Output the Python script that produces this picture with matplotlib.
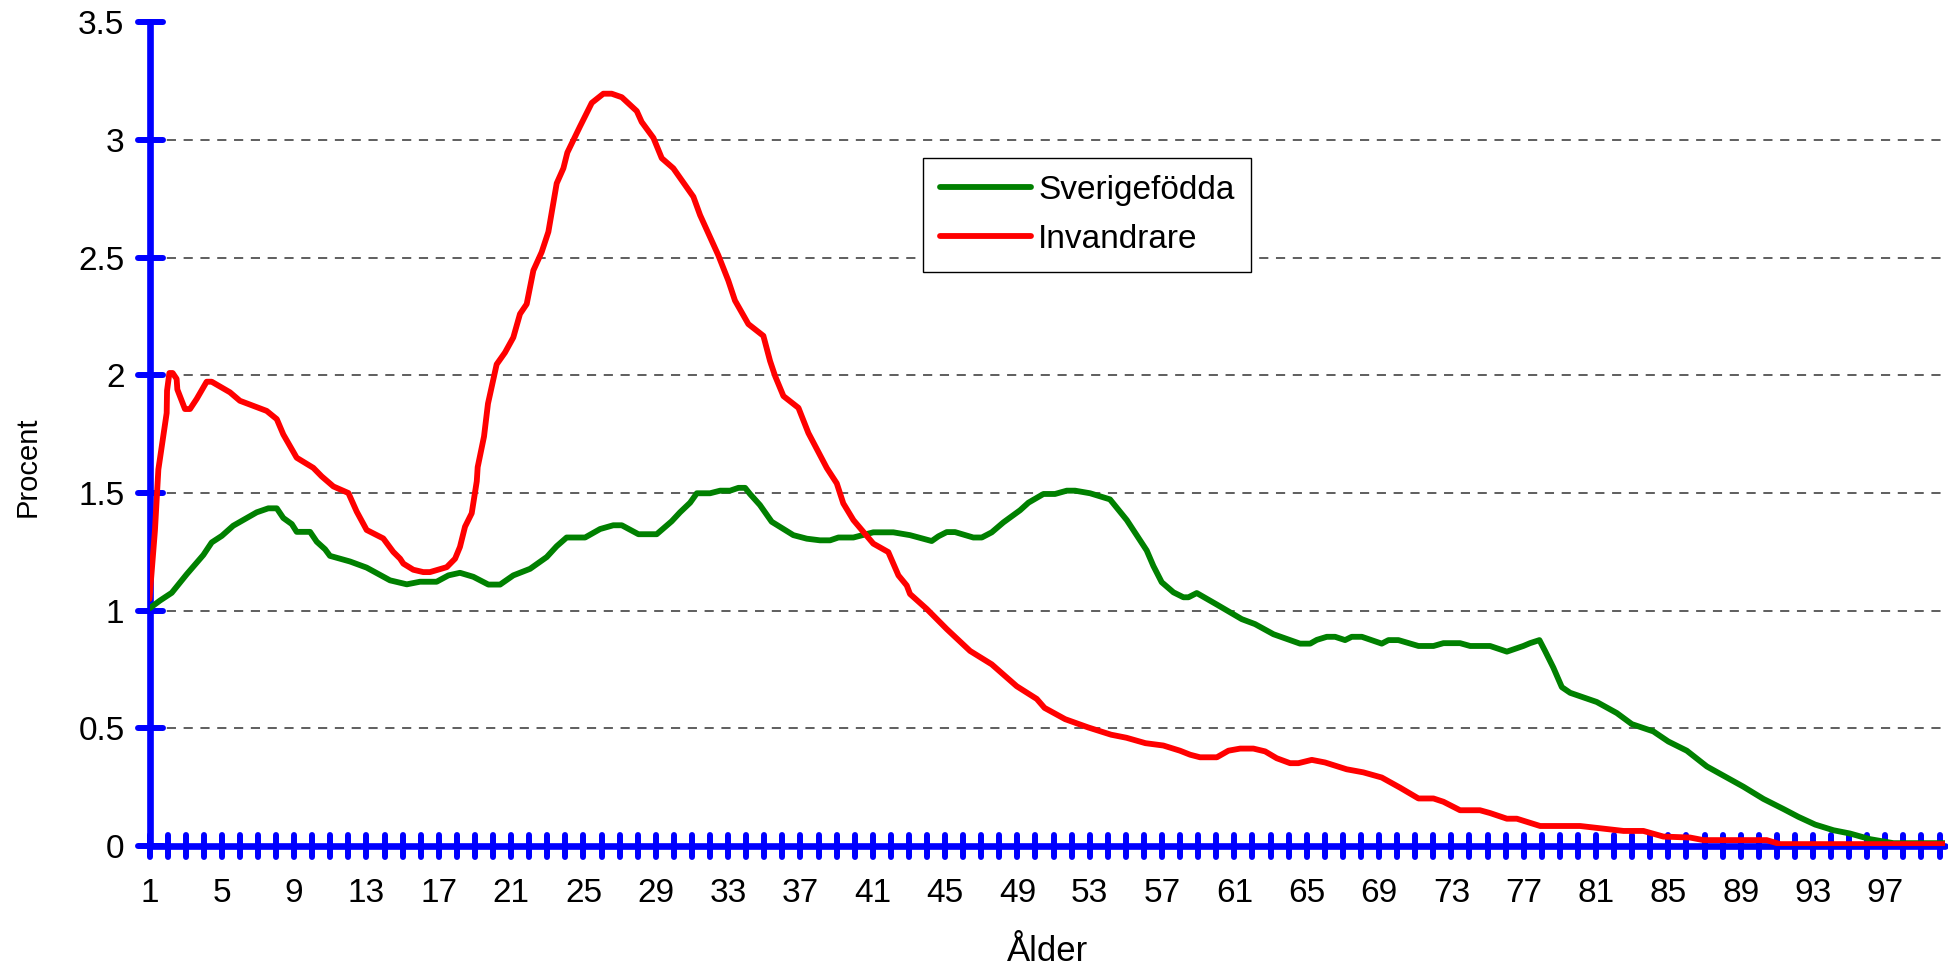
import matplotlib
matplotlib.use('Agg')
import matplotlib.pyplot as plt
from matplotlib.markers import MarkerStyle
import numpy as np

plt.rcParams['font.family'] = ['Liberation Sans', 'DejaVu Sans']

# Sverigefödda (green)
sv_age = [1.0, 1.58, 2.23, 3.06, 3.98, 4.44, 5.0, 5.63, 6.93, 7.57, 8.04, 8.4, 8.87, 9.14,
          9.88, 10.25, 10.71, 10.98, 12.09, 13.01, 14.3, 15.23, 15.96, 16.88, 17.53, 18.17,
          18.91, 19.74, 20.39, 21.12, 22.05, 22.97, 23.52, 24.07, 25.09, 25.92, 26.65, 27.12,
          28.04, 29.05, 29.88, 30.34, 30.9, 31.27, 32.0, 32.56, 33.11, 33.57, 33.94, 34.21,
          34.76, 35.41, 36.61, 37.35, 38.08, 38.64, 39.1, 39.93, 41.03, 42.14, 43.06, 44.26,
          44.63, 45.09, 45.55, 46.56, 47.03, 47.58, 48.22, 49.15, 49.61, 50.44, 51.08, 51.73,
          52.19, 53.02, 54.12, 55.05, 56.15, 56.52, 56.98, 57.63, 58.18, 58.46, 58.92, 60.03,
          61.41, 62.14, 63.16, 64.63, 65.19, 65.56, 66.11, 66.57, 67.12, 67.49, 68.05, 69.15,
          69.52, 70.07, 71.18, 72.01, 72.56, 73.48, 74.04, 75.14, 76.07, 76.98, 77.35, 77.87,
          78.18, 78.64, 79.11, 79.57, 81.04, 82.15, 82.98, 84.17, 85.0, 86.02, 87.13, 88.05,
          89.15, 90.26, 91.37, 92.19, 93.12, 94.13, 95.05, 96.16, 97.45, 100.3]
sv_val = [1.01, 1.043, 1.076, 1.155, 1.237, 1.29, 1.318, 1.361, 1.418, 1.435, 1.435, 1.394,
          1.368, 1.335, 1.335, 1.293, 1.261, 1.233, 1.209, 1.183, 1.129, 1.112, 1.123, 1.123,
          1.15, 1.161, 1.144, 1.111, 1.111, 1.15, 1.178, 1.228, 1.274, 1.311, 1.311, 1.347,
          1.363, 1.363, 1.325, 1.325, 1.38, 1.418, 1.459, 1.499, 1.499, 1.51, 1.51, 1.522,
          1.522, 1.496, 1.449, 1.378, 1.321, 1.306, 1.299, 1.299, 1.311, 1.311, 1.333, 1.333,
          1.321, 1.296, 1.316, 1.334, 1.334, 1.311, 1.311, 1.333, 1.375, 1.427, 1.459, 1.496,
          1.496, 1.51, 1.51, 1.499, 1.473, 1.385, 1.256, 1.19, 1.121, 1.078, 1.057, 1.057,
          1.075, 1.026, 0.964, 0.943, 0.9, 0.86, 0.86, 0.876, 0.889, 0.889, 0.875, 0.889,
          0.889, 0.86, 0.875, 0.875, 0.85, 0.85, 0.862, 0.862, 0.85, 0.85, 0.826, 0.85, 0.862,
          0.875, 0.829, 0.758, 0.675, 0.651, 0.612, 0.565, 0.518, 0.487, 0.444, 0.405, 0.338,
          0.299, 0.252, 0.2, 0.157, 0.124, 0.091, 0.067, 0.053, 0.029, 0.012, 0.012]

# Invandrare (red)
inv_age = [1.0, 1.3, 1.49, 1.95, 1.97, 2.1, 2.28, 2.5, 2.54, 2.96, 3.24, 3.61, 4.16, 4.44,
           5.45, 6.0, 7.48, 8.04, 8.4, 9.14, 10.06, 10.52, 11.17, 12.0, 12.46, 13.01, 13.93,
           14.48, 14.86, 15.04, 15.59, 16.14, 16.51, 17.44, 17.9, 18.17, 18.45, 18.82, 19.1,
           19.15, 19.5, 19.72, 20.2, 20.66, 21.12, 21.49, 21.86, 22.23, 22.69, 23.06, 23.52,
           23.89, 24.11, 24.81, 25.46, 26.1, 26.56, 27.12, 27.95, 28.22, 28.87, 29.33, 29.97,
           31.08, 31.45, 32.46, 33.01, 33.38, 34.12, 34.95, 35.32, 35.6, 36.06, 36.89, 37.44,
           38.46, 39.01, 39.37, 39.93, 41.03, 41.86, 42.42, 42.88, 43.06, 43.99, 45.09, 46.38,
           47.58, 48.96, 50.07, 50.5, 51.64, 52.91, 54.18, 55.03, 56.08, 57.07, 57.99, 58.55,
           59.1, 60.03, 60.67, 61.32, 62.05, 62.7, 63.34, 64.08, 64.54, 65.28, 66.01, 67.21,
           68.13, 69.15, 70.16, 71.18, 72.01, 72.56, 73.48, 74.58, 75.14, 76.07, 76.62, 77.91,
           80.12, 82.52, 83.62, 84.73, 86.2, 86.94, 90.44, 91.18, 100.3]
inv_val = [1.05, 1.34, 1.6, 1.84, 1.935, 2.01, 2.01, 1.985, 1.94, 1.857, 1.857, 1.9, 1.973,
           1.973, 1.928, 1.892, 1.849, 1.814, 1.749, 1.65, 1.607, 1.571, 1.528, 1.5, 1.421,
           1.343, 1.307, 1.25, 1.221, 1.2, 1.174, 1.164, 1.164, 1.185, 1.221, 1.271, 1.357,
           1.414, 1.55, 1.61, 1.74, 1.88, 2.047, 2.097, 2.161, 2.261, 2.303, 2.446, 2.524,
           2.61, 2.816, 2.88, 2.947, 3.058, 3.158, 3.197, 3.197, 3.182, 3.123, 3.077, 3.009,
           2.923, 2.88, 2.759, 2.681, 2.51, 2.403, 2.318, 2.218, 2.168, 2.061, 1.997, 1.912,
           1.862, 1.755, 1.606, 1.541, 1.456, 1.385, 1.285, 1.249, 1.15, 1.107, 1.071, 1.007,
           0.922, 0.829, 0.772, 0.679, 0.625, 0.587, 0.539, 0.504, 0.473, 0.46, 0.437, 0.427,
           0.405, 0.388, 0.377, 0.377, 0.405, 0.414, 0.414, 0.402, 0.373, 0.352, 0.352, 0.366,
           0.355, 0.326, 0.313, 0.291, 0.248, 0.202, 0.202, 0.188, 0.152, 0.152, 0.14, 0.116,
           0.116, 0.085, 0.085, 0.064, 0.064, 0.04, 0.036, 0.025, 0.025, 0.008, 0.008]

x_ticks = list(range(1, 101))
x_labels = [str(a) if (a - 1) % 4 == 0 else '' for a in x_ticks]
y_ticks = [0, 0.5, 1, 1.5, 2, 2.5, 3, 3.5]
y_labels = ['0', '0.5', '1', '1.5', '2', '2.5', '3', '3.5']

fig = plt.figure(figsize=(19.48, 9.67), dpi=100)
ax = fig.add_axes([149.5 / 1948, 1 - 846 / 967, (1945 - 149.5) / 1948, (846 - 22.4) / 967])

ax.plot(sv_age, sv_val, color='#008000', lw=4.2, label='Sverigefödda', zorder=3,
        solid_joinstyle='round', solid_capstyle='round')
ax.plot(inv_age, inv_val, color='#FF0000', lw=4.2, label='Invandrare', zorder=3.1,
        solid_joinstyle='round', solid_capstyle='round')

ax.set_xlim(1, 100.3)
ax.set_ylim(0, 3.5)
ax.set_xticks(x_ticks)
ax.set_xticklabels(x_labels)
ax.set_yticks(y_ticks)
ax.set_yticklabels(y_labels)

for side in ['top', 'right']:
    ax.spines[side].set_visible(False)
for side in ['left', 'bottom']:
    ax.spines[side].set_color('#0000FF')
    ax.spines[side].set_linewidth(4.8)
    ax.spines[side].set_capstyle('round')

ax.tick_params(axis='x', direction='inout', length=16, width=4.3, color='#0000FF',
               labelsize=24, pad=15)
ax.tick_params(axis='y', direction='inout', length=18, width=4.3, color='#0000FF',
               labelsize=24, pad=9)

# rounded tick ends like the original
for t in ax.xaxis.get_major_ticks():
    t.tick1line.set_marker(MarkerStyle('|', capstyle='round'))
for t in ax.yaxis.get_major_ticks():
    t.tick1line.set_marker(MarkerStyle('_', capstyle='round'))

ax.yaxis.grid(True, color='#333333', linestyle=(0, (6, 5)), lw=1.1)
gl = ax.yaxis.get_gridlines()
gl[0].set_visible(False)
gl[-1].set_visible(False)

ax.set_ylabel('Procent', fontsize=21)
ax.yaxis.label.set_va('center')
ax.yaxis.set_label_coords(-0.068, 0.46)
ax.set_xlabel('Ålder', fontsize=25)
ax.xaxis.label.set_va('center')
ax.xaxis.set_label_coords(0.5, -0.1275)

leg = ax.legend(loc='upper left', bbox_to_anchor=(923 / 1948, 1 - 158 / 967),
                bbox_transform=fig.transFigure, borderaxespad=0, fontsize=24,
                frameon=True, fancybox=False, framealpha=1, edgecolor='black',
                handlelength=2.75, handletextpad=0.2, borderpad=0.5, labelspacing=0.55)
leg.get_frame().set_linewidth(1.0)

fig.savefig('out.png', dpi=100)
